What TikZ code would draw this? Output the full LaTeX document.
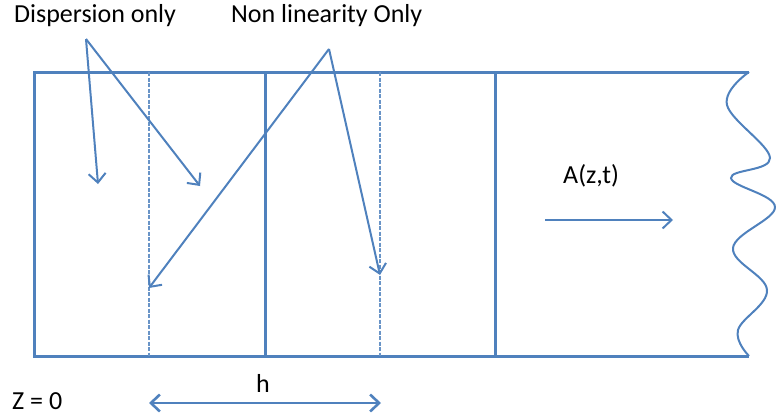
\documentclass[tikz,border=0pt]{standalone}
\usepackage{fontspec}
\setmainfont{Carlito}
\usepackage{tikz}
\usetikzlibrary{arrows.meta,positioning,calc}
\definecolor{FibreBlue}{RGB}{79,129,189}

\tikzset{
  wall/.style={draw=FibreBlue, line width=3pt},
  halfwall/.style={draw=FibreBlue!85, line width=2.2pt, dash pattern=on 4pt off 1.5pt},
  pointer/.style={draw=FibreBlue, line width=2pt, -{Straight Barb[length=9pt,width=17pt]}},
  lbl/.style={font=\fontsize{26}{30}\selectfont, inner sep=0pt, anchor=base west}
}

\begin{document}
\begin{tikzpicture}[x=1pt,y=-1pt]
    \useasboundingbox (0,0) rectangle (776,415);
    % fibre section
    \coordinate (tl) at (34,72);
    \coordinate (bl) at (34,356);
    \coordinate (tr) at (749,72);
    \coordinate (br) at (749,356);
    \draw[wall] (tr) -- (tl) -- (bl) -- (br);
    \foreach \x in {265,495} {
      \draw[wall] (\x,72) -- (\x,356);
    }
    \foreach \x in {149,380} {
      \draw[halfwall] (\x,72) -- (\x,356);
    }
    \draw[draw=FibreBlue, line width=2pt] plot[smooth, tension=0.65] coordinates
      {(749,72) (727,105) (770,158) (731,178) (775,207) (733,248) (767,290) (738,330) (749,356)};
    % labels
    \node[lbl] (disp) at (14,23) {Dispersion only};
    \node[lbl] (nonlin) at (231,23) {Non linearity Only};
    \node[lbl] (field) at (563,183) {A(z,t)};
    \node[lbl, anchor=base] (step) at (263,392) {h};
    \node[lbl] (origin) at (12,409) {Z = 0};
    % pointers
    \coordinate (dsrc) at (86,39);
    \coordinate (nsrc) at (329,49);
    \coordinate (d1) at (98,184);
    \coordinate (d2) at (200,186);
    \coordinate (n1) at (149,288);
    \coordinate (n2) at (380,275);
    \draw[pointer] (dsrc) -- (d1);
    \draw[pointer] (dsrc) -- (d2);
    \draw[pointer] (nsrc) -- (n1);
    \draw[pointer] (nsrc) -- (n2);
    \coordinate (fa) at (545,220);
    \coordinate (fb) at (673,220);
    \draw[pointer] (fa) -- (fb);
    \coordinate (hl) at (149,403);
    \coordinate (hr) at (381,403);
    \draw[pointer, line width=2.6pt, {Straight Barb[length=9pt,width=17pt]}-{Straight Barb[length=9pt,width=17pt]}] (hl) -- (hr);
\end{tikzpicture}
\end{document}
